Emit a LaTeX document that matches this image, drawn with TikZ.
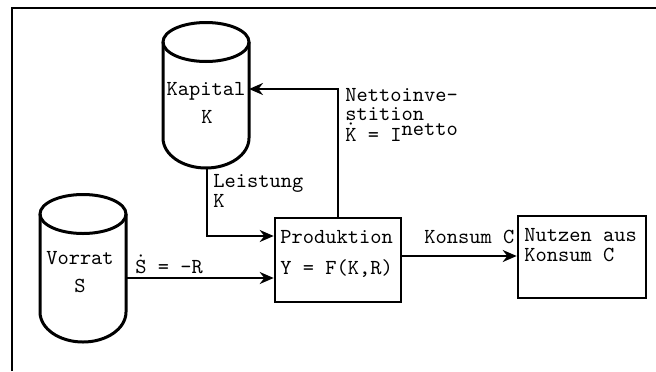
\documentclass[tikz,border=0pt]{standalone}
\usepackage{fontspec}
\usepackage{tikz}
\usetikzlibrary{arrows.meta,positioning,calc}
\tikzset{
  tank/.style ={line width=1.5pt},
  box/.style  ={draw,line width=1.3pt,minimum width=63pt,minimum height=42pt,inner sep=0pt},
  txt/.style  ={font=\ttfamily\fontsize{10.7}{10.7}\selectfont,inner sep=0pt},
  flow/.style ={-{Stealth[length=7pt,width=6pt]},line width=1pt},
  frame/.style={line width=0.8pt},
}

\begin{document}
\begin{tikzpicture}[x=0.5pt, y=0.5pt]
\useasboundingbox (0,0) rectangle (656,371);

% ---- frame (open at right and bottom) -------------------------------------
\draw[frame] (12,0) -- (12,363) -- (656,363);

% ---- the two stocks -------------------------------------------------------
% {centre x}/{top of side}/{bottom of side}
\foreach \cx/\yt/\yb in {206/329/233, 83/157/59}{%
  \draw[tank] (\cx-43,\yt) -- (\cx-43,\yb)
    arc[start angle=180,end angle=360,x radius=21.5pt,y radius=15pt] -- (\cx+43,\yt);
  \draw[tank] (\cx,\yt) ellipse[x radius=21.5pt,y radius=9.75pt];
}
\node[txt,anchor=base] (kapA) at (206,276) {Kapital};
\node[txt,anchor=base] (kapB) at (207,248) {K};
\node[txt,anchor=base] (vorA) at (80,107) {Vorrat};
\node[txt,anchor=base] (vorB) at (80,79)  {S};
\coordinate (kapE) at (249,282);
\coordinate (kapS) at (207,203);
\coordinate (vorE) at (126,93);

% ---- blocks ---------------------------------------------------------------
\node[box] (prod) at (338,111) {};
\node[txt,anchor=base west] (prodA) at (280,128) {Produktion};
\node[txt,anchor=base west] (prodB) at (280,97)  {Y = F(K,R)};

\node[box,minimum width=64pt,minimum height=41pt] (nutz) at (582,114) {};
\node[txt,anchor=base west] (nutzA) at (524,130) {Nutzen aus};
\node[txt,anchor=base west] (nutzB) at (524,110) {Konsum C};

% ---- flows ----------------------------------------------------------------
\draw[flow] (prod.north) |- (kapE);
\node[txt,anchor=base west] (netA) at (345,270) {Nettoinve-};
\node[txt,anchor=base west] (netB) at (345,251) {stition};
\node[txt,anchor=base west] (netC) at (345,230) {$\dot{\mbox{K}}$ = I\raisebox{3pt}{netto}};

\draw[flow] (kapS) |- ([yshift=12pt]prod.west);
\node[txt,anchor=base west] (leiA) at (213,184) {Leistung};
\node[txt,anchor=base west] (leiB) at (213,164) {K};

\draw[flow] (vorE) -- (vorE -| prod.west);
\node[txt,anchor=base west] (sdot) at (135,98) {$\dot{\mbox{S}}$ = -R};

\draw[flow] ([yshift=2pt]prod.east) -- ([yshift=2pt]prod.east -| nutz.west);
\node[txt,anchor=base west] (kons) at (424,128) {Konsum C};
\end{tikzpicture}
\end{document}
